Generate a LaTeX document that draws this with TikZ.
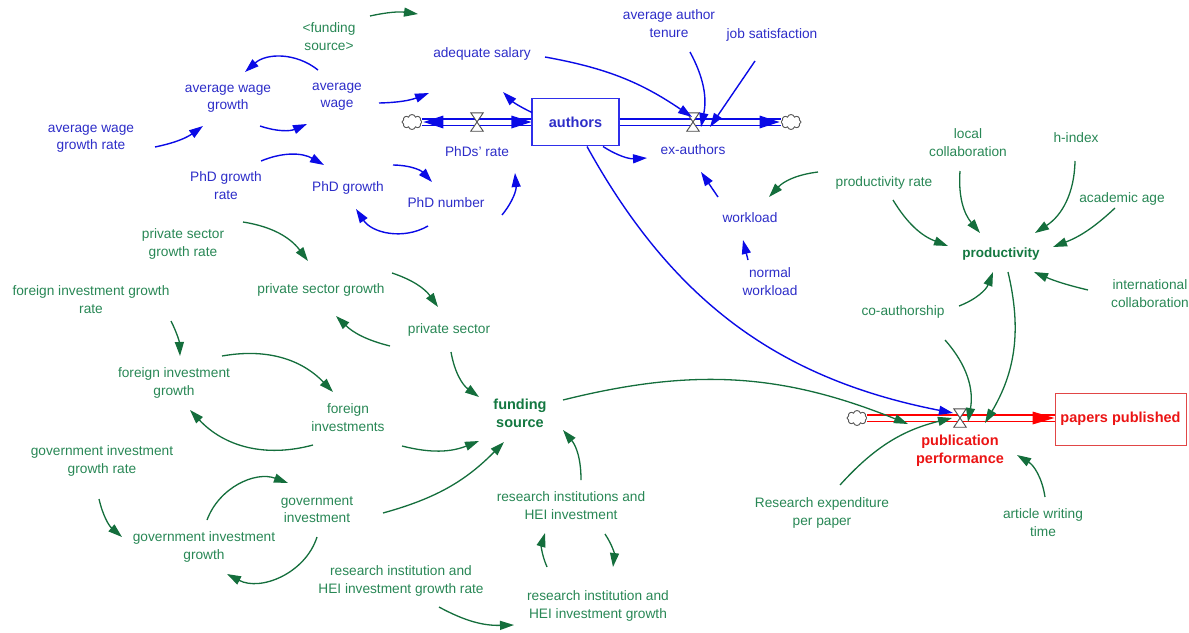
\documentclass[tikz,border=0pt]{standalone}
\usepackage{fontspec}
\setmainfont{Liberation Sans}
\usetikzlibrary{arrows.meta,shapes.symbols}
\definecolor{btxt}{RGB}{45,45,200}
\definecolor{barr}{RGB}{10,10,230}
\definecolor{gtxt}{RGB}{40,135,85}
\definecolor{garr}{RGB}{20,110,60}
\definecolor{gbold}{RGB}{20,120,65}
\definecolor{rtxt}{RGB}{235,20,20}
\definecolor{rbox}{RGB}{225,70,70}
\tikzset{
  lbl/.style={align=center, inner sep=0pt, font=\fontsize{13.7}{17.5}\selectfont,
    execute at begin node=\strut, execute at end node=\strut},
  bl/.style={lbl, text=btxt},
  gl/.style={lbl, text=gtxt},
  boldlbl/.style={align=center, inner sep=0pt, font=\bfseries\fontsize{14.5}{17.5}\selectfont,
    execute at begin node=\strut, execute at end node=\strut},
  blink/.style={draw=barr, line width=1.4pt, -{Triangle[length=14pt,width=9pt]}},
  glink/.style={draw=garr, line width=1.3pt, -{Triangle[length=14pt,width=9pt]}},
  valvebox/.style={inner sep=0pt, minimum width=12pt, minimum height=18pt},
  valveshape/.style={draw=black!70, fill=white, line width=0.9pt},
  cloudn/.style={cloud, cloud puffs=8, draw=black!65, fill=white, line width=0.9pt,
    minimum width=20pt, minimum height=15pt, inner sep=0pt, aspect=1.4},
  pipe/.style={line width=1.3pt, double=white, double distance=5pt},
}
\begin{document}
\begin{tikzpicture}[x=1pt,y=1pt]
\useasboundingbox (0,0) rectangle (1189,-632);
\clip (0,0) rectangle (1189,-632);

% ---------- blue part ----------
\node[gl] (fsrc2) at (329,-39) {<funding\\source>};
\node[bl] (awg) at (228,-100) {average wage\\growth};
\node[bl] (aw) at (337,-98) {average\\wage};
\node[bl] (awgr) at (91,-140) {average wage\\growth rate};
\node[bl] (phdgr) at (226,-188) {PhD growth\\rate};
\node[bl] (phdg) at (348,-188) {PhD growth};
\node[bl] (phdn) at (446,-204) {PhD number};
\node[bl] (rate) at (477,-153) {PhDs' rate};
\node[bl] (sal) at (482,-54) {adequate salary};
\node[draw=barr!85!white, line width=1.2pt, minimum width=87pt, minimum height=47pt, inner sep=0pt,
  text=btxt, font=\bfseries\fontsize{14.5}{17.5}\selectfont] (auth) at (575.5,-122) {authors};
\node[cloudn] (c1) at (412,-122) {};
\node[bl] (tenure) at (669,-26) {average author\\tenure};
\node[bl] (jobs) at (772,-35) {job satisfaction};
\node[cloudn] (c2) at (791,-122) {};
\node[bl] (exa) at (693,-151) {ex-authors};
\node[bl] (wl) at (750,-219) {workload};
\node[bl] (nwl) at (770,-284) {normal\\workload};

% ---------- green part ----------
\node[gl] (prate) at (884,-183) {productivity rate};
\node[gl] (loc) at (968,-145) {local\\collaboration};
\node[gl] (hidx) at (1076,-139) {h-index};
\node[gl] (age) at (1122,-199) {academic age};
\node[boldlbl, text=gbold, font=\bfseries\fontsize{13.5}{17.5}\selectfont] (prod) at (1001,-254) {productivity};
\node[gl] (intl) at (1150,-296) {international\\collaboration};
\node[gl] (coa) at (903,-312) {co-authorship};
\node[boldlbl, text=rtxt] (pp) at (960,-452) {publication\\performance};
\node[draw=rbox, line width=1pt, minimum width=131pt, minimum height=52pt, inner sep=0pt,
  text=rtxt, font=\bfseries\fontsize{14.5}{17.5}\selectfont] (papers) at (1120.5,-419) {papers published};
\node[cloudn] (c3) at (857,-418) {};
\node[gl] (rexp) at (822,-514) {Research expenditure\\per paper};
\node[gl] (awt) at (1043,-525) {article writing\\time};
\node[boldlbl, text=gbold] (fs) at (520,-416) {funding\\source};
\node[gl] (ps) at (449,-330) {private sector};
\node[gl] (psg) at (321,-290) {private sector growth};
\node[gl] (psgr) at (183,-245) {private sector\\growth rate};
\node[gl] (figr) at (91,-302) {foreign investment growth\\rate};
\node[gl] (fig) at (174,-384) {foreign investment\\growth};
\node[gl] (fi) at (348,-420) {foreign\\investments};
\node[gl] (gigr) at (102,-462) {government investment\\growth rate};
\node[gl] (gig) at (204,-548) {government investment\\growth};
\node[gl] (gi) at (317,-512) {government\\investment};
\node[gl] (rigr) at (401,-582) {research institution and\\HEI investment growth rate};
\node[gl] (ri) at (571,-508) {research institutions and\\HEI investment};
\node[gl] (rig) at (598,-607) {research institution and\\HEI investment growth};
\coordinate (g1end) at (418,-14);

% ---------- pipes ----------
\draw[pipe, draw=barr] (c1.east) -- (c1.east -| auth.west);
\draw[pipe, draw=barr] (auth.east) -- (auth.east -| c2.west);
\draw[pipe, draw=red] (c3.east) -- (c3.east -| papers.west);
\fill[barr] ([xshift=1pt]c1.east) -- ++(20,6.5) -- ++(0,-13) -- cycle;
\fill[barr] (c1.east -| auth.west) -- ++(-20,6.5) -- ++(0,-13) -- cycle;
\fill[barr] ([xshift=-1pt]c2.west) -- ++(-20,6.5) -- ++(0,-13) -- cycle;
\fill[red] (c3.east -| papers.west) -- ++(-22,6.5) -- ++(0,-13) -- cycle;
\node[valvebox] (v1) at (477,-122) {};
\node[valvebox] (v2) at (693,-122) {};
\node[valvebox] (v3) at (960,-418) {};
\foreach \v in {v1,v2,v3}
  \draw[valveshape] (\v.north west) -- (\v.north east) -- (\v.south west) -- (\v.south east) -- cycle;

% ---------- blue links ----------
\draw[blink] ([shift={(64,-7)}]awgr.center) to[bend right=12] ([shift={(-25,-26)}]awg.center);
\draw[blink] ([shift={(32,-26)}]awg.center) to[bend right=21] ([shift={(-30,-26)}]aw.center);
\draw[blink] ([shift={(-19,28)}]aw.center) to[bend right=40] ([shift={(17,28)}]awg.center);
\draw[blink] ([shift={(42,-5)}]aw.center) to[bend right=10] ([shift={(-53,-39)}]sal.center);
\draw[blink] ([shift={(35,27)}]phdgr.center) to[bend left=26] ([shift={(-24,23)}]phdg.center);
\draw[blink] ([shift={(45,23)}]phdg.center) to[bend left=23] ([shift={(-14,22)}]phdn.center);
\draw[blink] ([shift={(-18,-22)}]phdn.center) to[bend left=43] ([shift={(8,-21)}]phdg.center);
\draw[blink] ([shift={(56,-11)}]phdn.center) to[bend right=22] ([shift={(38,-20)}]rate.center);
\draw[blink] ([shift={(-43.5,9.5)}]auth.center) to[bend left=10] ([shift={(21,-38)}]sal.center);
\draw[blink] ([shift={(63,-3)}]sal.center) to[bend left=12] ([shift={(-1,5)}]v2.center);
\draw[blink] ([shift={(21,-26)}]tenure.center) to[bend left=20] ([shift={(8,-5)}]v2.center);
\draw[blink] ([shift={(-17,-26)}]jobs.center) -- ([shift={(17,-5)}]v2.center);
\draw[blink] ([shift={(27.5,-24.5)}]auth.center) to[bend right=18] ([shift={(-46,-7)}]exa.center);
\draw[blink] ([shift={(-32,22)}]wl.center) -- ([shift={(8,-21)}]exa.center);
\draw[blink] ([shift={(-22,24)}]nwl.center) -- ([shift={(-7,-21)}]wl.center);
\draw[blink] ([shift={(11.5,-24.5)}]auth.center) to[bend right=25] ([shift={(-7,5)}]v3.center);

% ---------- green links ----------
\draw[glink] ([shift={(41,23)}]fsrc2.center) to[bend left=10] (g1end);
\draw[glink] ([shift={(60,23)}]psgr.center) to[bend left=22] ([shift={(-13,29)}]psg.center);
\draw[glink] ([shift={(71,17)}]psg.center) to[bend left=18] ([shift={(-11,23)}]ps.center);
\draw[glink] ([shift={(-59,-16)}]ps.center) to[bend left=15] ([shift={(15,-26)}]psg.center);
\draw[glink] ([shift={(2,-22)}]ps.center) to[bend right=22] ([shift={(-41,19)}]fs.center);
\draw[glink] ([shift={(80,-19)}]figr.center) to[bend left=12] ([shift={(6,28)}]fig.center);
\draw[glink] ([shift={(48,28)}]fig.center) to[bend left=28] ([shift={(-15,28)}]fi.center);
\draw[glink] ([shift={(-35,-25)}]fi.center) to[bend left=31] ([shift={(16,-26)}]fig.center);
\draw[glink] ([shift={(54,-26)}]fi.center) to[bend right=18] ([shift={(-41,-25)}]fs.center);
\draw[glink] ([shift={(66,-1)}]gi.center) to[bend right=15] ([shift={(-16,-26)}]fs.center);
\draw[glink] ([shift={(10,28)}]ri.center) to[bend right=20] ([shift={(43,-14)}]fs.center);
\draw[glink] ([shift={(-3,-37)}]gigr.center) to[bend right=18] ([shift={(-82,11)}]gig.center);
\draw[glink] ([shift={(3,28)}]gig.center) to[bend left=45] ([shift={(-29,29)}]gi.center);
\draw[glink] ([shift={(0,-25)}]gi.center) to[bend left=50] ([shift={(23,-26)}]gig.center);
\draw[glink] ([shift={(38,-25)}]rigr.center) to[bend right=15] ([shift={(-84,-18)}]rig.center);
\draw[glink] ([shift={(-51,40)}]rig.center) to[bend left=20] ([shift={(-26,-25)}]ri.center);
\draw[glink] ([shift={(34,-26)}]ri.center) to[bend left=20] ([shift={(15,40)}]rig.center);
\draw[glink] ([shift={(43,16)}]fs.center) to[bend left=18] ([shift={(-52,-6)}]v3.center);
\draw[glink] ([shift={(9,-17)}]prate.center) to[bend right=19] ([shift={(-53,8)}]prod.center);
\draw[glink] ([shift={(-8,-26)}]loc.center) to[bend right=22] ([shift={(-21,21)}]prod.center);
\draw[glink] ([shift={(-1,-22)}]hidx.center) to[bend left=28] ([shift={(34,21)}]prod.center);
\draw[glink] ([shift={(-7,-9)}]age.center) to[bend left=11] ([shift={(52,7)}]prod.center);
\draw[glink] ([shift={(-62,6)}]intl.center) to[bend left=5] ([shift={(33,-18)}]prod.center);
\draw[glink] ([shift={(56,6)}]coa.center) to[bend right=24] ([shift={(-8,-18)}]prod.center);
\draw[glink] ([shift={(7,-18)}]prod.center) to[bend left=22] ([shift={(25,-5)}]v3.center);
\draw[glink] ([shift={(42,-28)}]coa.center) to[bend left=26] ([shift={(8,-4)}]v3.center);
\draw[glink] ([shift={(-66,11)}]prate.center) to[bend right=20] ([shift={(19,22)}]wl.center);
\draw[glink] ([shift={(18,29)}]rexp.center) to[bend left=17] ([shift={(-8,0)}]v3.center);
\draw[glink] ([shift={(2,28)}]awt.center) to[bend right=25] ([shift={(57,-3)}]pp.center);
\end{tikzpicture}
\end{document}
